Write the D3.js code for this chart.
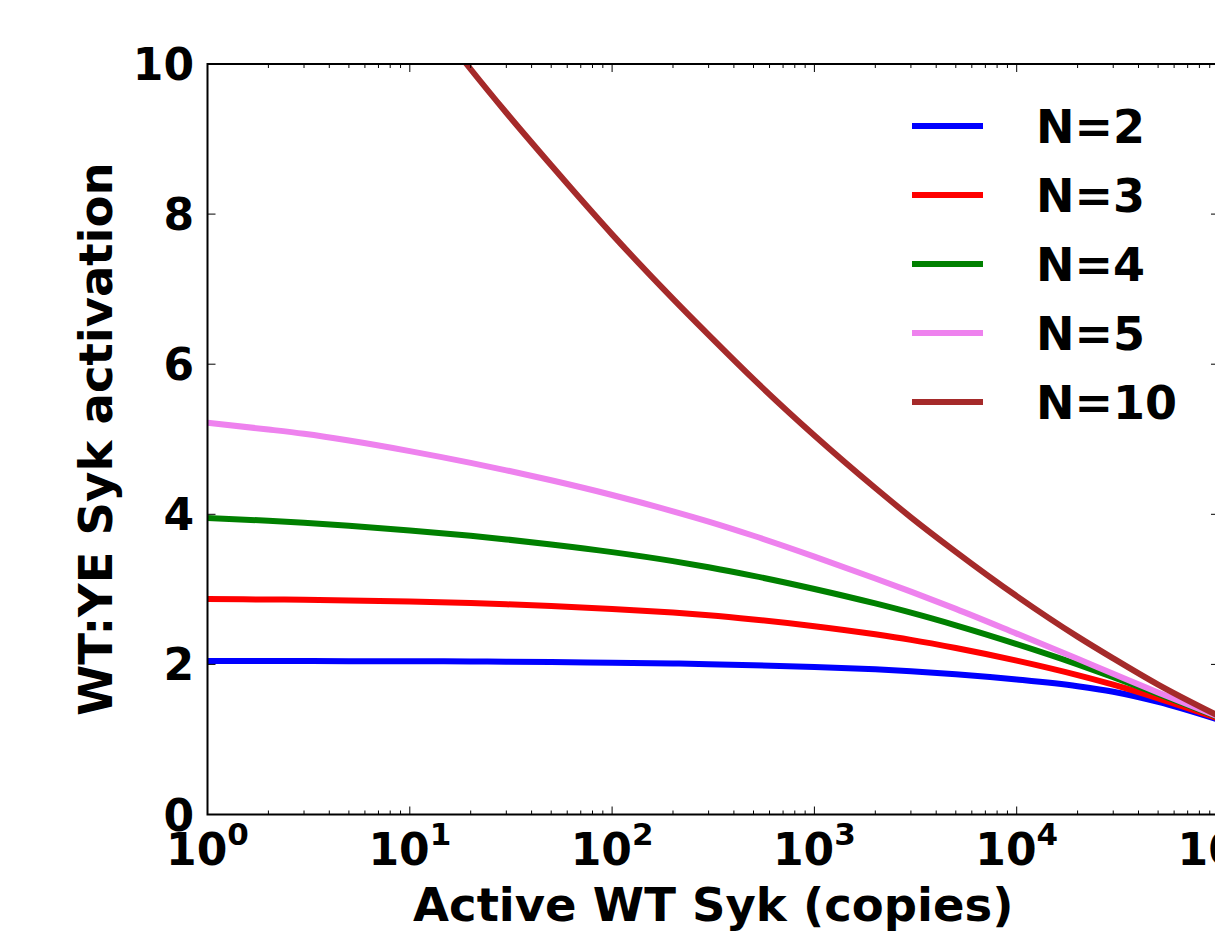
<!DOCTYPE html>
<html><head><meta charset="utf-8">
<script src="https://cdn.jsdelivr.net/npm/d3@7"></script>
<style>body{margin:0;background:#fff;overflow:hidden} svg{display:block;overflow:hidden}</style>
</head><body><svg id="c" width="1215" height="934"></svg>
<script>
// ---- data ----
const copies = [1,2,3,5,10,20,30,50,100,200,300,500,1000,2000,3000,5000,10000,20000,30000,50000,100000];
const actN2 = [2.045,2.045,2.044,2.043,2.042,2.039,2.036,2.031,2.022,2.012,2.003,1.99,1.966,1.935,1.91,1.87,1.80,1.71,1.635,1.50,1.26];
const actN3 = [2.87,2.865,2.861,2.853,2.838,2.817,2.801,2.777,2.738,2.69,2.655,2.599,2.509,2.401,2.327,2.218,2.05,1.857,1.729,1.547,1.275];
const actN4 = [3.95,3.914,3.888,3.848,3.785,3.713,3.665,3.598,3.496,3.376,3.295,3.18,3.005,2.812,2.689,2.52,2.27,2.0,1.83,1.608,1.295];
const actN5 = [5.22,5.13,5.072,4.983,4.842,4.685,4.586,4.453,4.257,4.04,3.903,3.714,3.437,3.145,2.969,2.74,2.41,2.075,1.875,1.625,1.30];
const copiesN10 = [17,20,30,50,100,200,300,500,1000,2000,3000,5000,10000,20000,30000,50000,100000];
const actN10 = [10.17,9.93,9.35,8.65,7.73,6.87,6.39,5.80,5.05,4.35,3.96,3.50,2.91,2.37,2.08,1.73,1.31];
const seriesNames = ["N=2","N=3","N=4","N=5","N=10"];
const seriesColors = ["#0000ff","#ff0000","#008000","#ee82ee","#a52a2a"];
const yTicks = [0,2,4,6,8,10];
const xMajorExp = [0,1,2,3,4,5];
const xLabel = "Active WT Syk (copies)";
const yLabel = "WT:YE Syk activation";

// ---- layout ----
const L = 207.5, R = 1219, T = 64, B = 814.5;
const svg = d3.select("#c");
const x = d3.scaleLog().domain([1,1e5]).range([L,R]);
const y = d3.scaleLinear().domain([0,10]).range([B,T]);
const FONT = "'DejaVu Sans', sans-serif";

svg.append("defs").append("clipPath").attr("id","clip")
  .append("rect").attr("x",L).attr("y",T).attr("width",R-L).attr("height",B-T);

const series = [
  {name:seriesNames[0], xs:copies, ys:actN2, color:seriesColors[0]},
  {name:seriesNames[1], xs:copies, ys:actN3, color:seriesColors[1]},
  {name:seriesNames[2], xs:copies, ys:actN4, color:seriesColors[2]},
  {name:seriesNames[3], xs:copies, ys:actN5, color:seriesColors[3]},
  {name:seriesNames[4], xs:copiesN10, ys:actN10, color:seriesColors[4]}
];
const line = d3.line().x(d=>x(d[0])).y(d=>y(d[1])).curve(d3.curveMonotoneX);
const g = svg.append("g").attr("clip-path","url(#clip)");
series.forEach(s=>{
  g.append("path").datum(s.xs.map((v,i)=>[v,s.ys[i]]))
    .attr("d",line).attr("fill","none").attr("stroke",s.color)
    .attr("stroke-width",6).attr("stroke-linejoin","round");
});

// ---- ticks ----
const tk = svg.append("g").attr("stroke","#000").attr("stroke-width",1);
const minor = [];
for (let e=0;e<5;e++) for (let m=2;m<=9;m++) minor.push(m*Math.pow(10,e));
xMajorExp.forEach(e=>{
  const px = x(Math.pow(10,e));
  tk.append("line").attr("x1",px).attr("x2",px).attr("y1",B).attr("y2",B-8);
  tk.append("line").attr("x1",px).attr("x2",px).attr("y1",T).attr("y2",T+8);
});
minor.forEach(v=>{
  const px = x(v);
  tk.append("line").attr("x1",px).attr("x2",px).attr("y1",B).attr("y2",B-4);
  tk.append("line").attr("x1",px).attr("x2",px).attr("y1",T).attr("y2",T+4);
});
yTicks.forEach(v=>{
  const py = y(v);
  tk.append("line").attr("x1",L).attr("x2",L+8).attr("y1",py).attr("y2",py);
  tk.append("line").attr("x1",R).attr("x2",R-8).attr("y1",py).attr("y2",py);
});

// spines
svg.append("rect").attr("x",L).attr("y",T).attr("width",R-L).attr("height",B-T)
  .attr("fill","none").attr("stroke","#000").attr("stroke-width",2);

// ---- tick labels ----
yTicks.forEach(v=>{
  svg.append("text").attr("x",194).attr("y",y(v)+16)
    .attr("text-anchor","end").attr("font-family",FONT).attr("font-weight","bold")
    .attr("font-size",44).attr("fill","#000").text(v);
});
xMajorExp.forEach(e=>{
  const t = svg.append("text").attr("x",x(Math.pow(10,e))).attr("y",865)
    .attr("text-anchor","middle").attr("font-family",FONT).attr("font-weight","bold")
    .attr("font-size",44).attr("fill","#000");
  t.append("tspan").text("10");
  t.append("tspan").attr("dy",-20).attr("font-size",31).text(e);
});

// ---- axis labels ----
svg.append("text").attr("x",(L+R)/2).attr("y",921).attr("text-anchor","middle")
  .attr("font-family",FONT).attr("font-weight","bold").attr("font-size",46.5).text(xLabel);
svg.append("text").attr("transform",`translate(112,${(T+B)/2}) rotate(-90)`)
  .attr("text-anchor","middle").attr("font-family",FONT).attr("font-weight","bold")
  .attr("font-size",46.5).text(yLabel);

// ---- legend ----
const lg = svg.append("g");
series.forEach((s,i)=>{
  const ly = 126 + i*69;
  lg.append("line").attr("x1",912).attr("x2",983).attr("y1",ly).attr("y2",ly)
    .attr("stroke",s.color).attr("stroke-width",6);
  lg.append("text").attr("x",1036).attr("y",ly+17).attr("font-family",FONT)
    .attr("font-weight","bold").attr("font-size",46).text(s.name);
});
</script></body></html>
